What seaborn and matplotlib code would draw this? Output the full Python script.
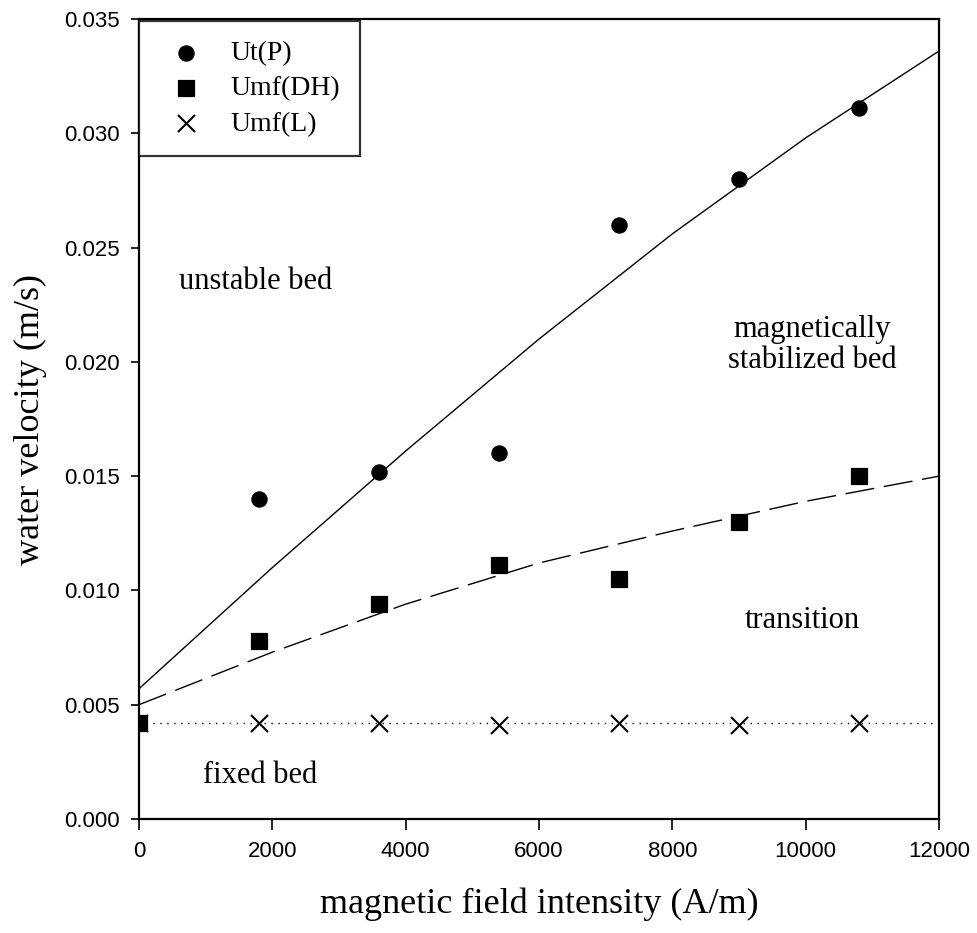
import numpy as np
import pandas as pd
import matplotlib
matplotlib.use("Agg")
import matplotlib.pyplot as plt
import seaborn as sns

# ---- data ----
field = [0, 1800, 3600, 5400, 7200, 9000, 10800]
ut_p = [0.0042, 0.0140, 0.0152, 0.0160, 0.0260, 0.0280, 0.0311]
umf_dh = [0.0042, 0.0078, 0.0094, 0.0111, 0.0105, 0.0130, 0.0150]
umf_l = [0.0042, 0.0042, 0.0042, 0.0041, 0.0042, 0.0041, 0.0042]

# fitted curves
fit_x = [0, 2000, 4000, 6000, 8000, 10000, 12000]
fit_ut = [0.0057, 0.0110, 0.0161, 0.0210, 0.0256, 0.0298, 0.0336]
fit_dh = [0.0050, 0.0073, 0.0094, 0.0112, 0.0126, 0.0139, 0.0150]
fit_l_x = [0, 12000]
fit_l = [0.0042, 0.0042]

x_ticks = [0, 2000, 4000, 6000, 8000, 10000, 12000]
y_ticks = [0.000, 0.005, 0.010, 0.015, 0.020, 0.025, 0.030, 0.035]

sns.set_theme(style="white")
plt.rcParams['font.family'] = ['Liberation Serif', 'DejaVu Serif']
plt.rcParams['text.color'] = 'black'
plt.rcParams['axes.labelcolor'] = 'black'
plt.rcParams['xtick.color'] = 'black'
plt.rcParams['ytick.color'] = 'black'

fig = plt.figure(figsize=(9.77, 9.33), dpi=100)
ax = fig.add_axes([0.1423, 0.1222, 0.8188, 0.8574])

sns.lineplot(x=fit_x, y=fit_ut, ax=ax, color="black", lw=1.0, sort=True)
sns.lineplot(x=fit_x, y=fit_dh, ax=ax, color="black", lw=1.0, sort=True,
             linestyle=(0, (21, 7)))
sns.lineplot(x=fit_l_x, y=fit_l, ax=ax, color="black", lw=1.0,
             linestyle=(0, (1, 4)))

sns.scatterplot(x=field, y=ut_p, ax=ax, marker="o", s=120, color="black",
                edgecolor="black", label="Ut(P)", zorder=5)
sns.scatterplot(x=field, y=umf_dh, ax=ax, marker="s", s=120, color="black",
                edgecolor="black", label="Umf(DH)", zorder=5)
sns.scatterplot(x=field, y=umf_l, ax=ax, marker="x", s=150, color="black",
                linewidth=1.5, label="Umf(L)", zorder=5)

ax.set_xlim(0, 12000)
ax.set_ylim(0, 0.035)
ax.set_xticks(x_ticks)
ax.set_yticks(y_ticks)
ax.set_xticklabels([str(t) for t in x_ticks], family="Liberation Sans", fontsize=16)
ax.set_yticklabels([f"{t:.3f}" for t in y_ticks], family="Liberation Sans", fontsize=16)
ax.tick_params(axis="x", direction="out", length=8, width=1.2, color="black",
               bottom=True, top=False, pad=8)
ax.tick_params(axis="y", direction="out", length=6, width=1.2, color="black",
               left=True, right=False, pad=8)
for sp in ax.spines.values():
    sp.set_color("black")
    sp.set_linewidth(1.6)

ax.set_xlabel("magnetic field intensity (A/m)", fontsize=26, labelpad=18)
ax.set_ylabel("water velocity (m/s)", fontsize=26, labelpad=12)

ax.text(1750, 0.0235, "unstable bed", fontsize=22, ha="center", va="center")
ax.text(10100, 0.02075, "magnetically\nstabilized bed", fontsize=22,
        ha="center", va="center", linespacing=1.1)
ax.text(9950, 0.0087, "transition", fontsize=22, ha="center", va="center")
ax.text(1815, 0.0019, "fixed bed", fontsize=22, ha="center", va="center")

leg = ax.legend(loc="upper left", bbox_to_anchor=(0.0, 0.997), borderaxespad=0.0,
                fontsize=20, frameon=True, fancybox=False, edgecolor="black",
                borderpad=0.7, labelspacing=0.35, handletextpad=0.6, markerscale=1.0)
leg.get_frame().set_linewidth(1.6)

fig.savefig("out.png", dpi=100)
